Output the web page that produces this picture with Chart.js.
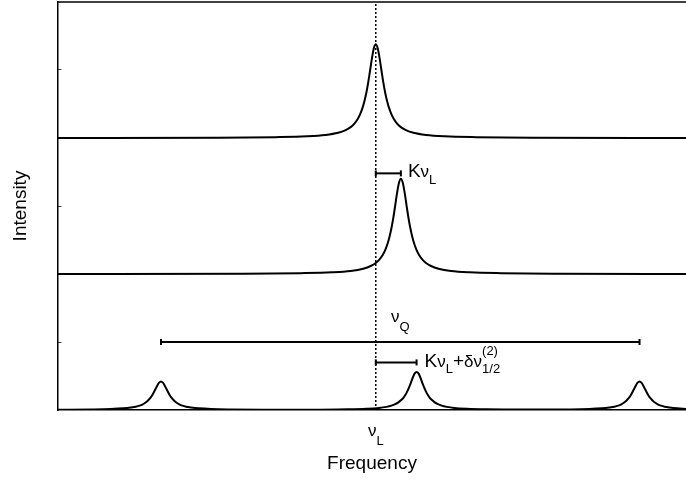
<!DOCTYPE html>
<html lang="en">
<head>
<meta charset="utf-8"/>
<title>Line shifts</title>
<script src="https://cdn.jsdelivr.net/npm/chart.js"></script>
<style>
  body { margin: 0; background: #fff; }
  #wrap { width: 686px; height: 480px; }
</style>
</head>
<body>
<div id="wrap"><canvas id="spectra" width="686" height="480"></canvas></div>
<script>
// frequency axis, nu_L at 0
const freqMin = -50.6;
const freqMax = 49.4;
const nuL = 0;

// top trace: unshifted Larmor line
const topFreq = [-50.6, -25, -16, -11, -8, -6, -4.8, -4.0, -3.4, -2.9, -2.5, -2.1, -1.8, -1.5, -1.2, -0.9, -0.6, -0.3, 0,
                 0.3, 0.6, 0.9, 1.2, 1.5, 1.8, 2.1, 2.5, 2.9, 3.4, 4.0, 4.8, 6, 8, 11, 16, 25, 49.4];
const topInt = [0, 0.002, 0.006, 0.012, 0.022, 0.038, 0.058, 0.080, 0.106, 0.138, 0.174, 0.223, 0.272, 0.333, 0.409, 0.498, 0.589, 0.662, 0.69,
                0.662, 0.589, 0.498, 0.409, 0.333, 0.272, 0.223, 0.174, 0.138, 0.106, 0.080, 0.058, 0.038, 0.022, 0.012, 0.006, 0.002, 0];

// middle trace: Knight shifted line
const midFreq = [-50.6, -21, -12, -7, -4, -2, -0.8, 0, 0.6, 1.1, 1.5, 1.9, 2.2, 2.5, 2.8, 3.1, 3.4, 3.7, 4.0,
                 4.3, 4.6, 4.9, 5.2, 5.5, 5.8, 6.1, 6.5, 6.9, 7.4, 8.0, 8.8, 10, 12, 15, 20, 29, 49.4];
const midInt = [0, 0.002, 0.006, 0.012, 0.022, 0.039, 0.059, 0.081, 0.108, 0.140, 0.176, 0.226, 0.276, 0.338, 0.415, 0.505, 0.598, 0.671, 0.70,
                0.671, 0.598, 0.505, 0.415, 0.338, 0.276, 0.226, 0.176, 0.140, 0.108, 0.081, 0.059, 0.039, 0.022, 0.012, 0.006, 0.002, 0];

// bottom trace: quadrupole split, two satellites and the central line
const botFreq = [-50.6, -45.2, -42.2, -40.2, -39.0, -38.2, -37.6, -37.1, -36.7, -36.3, -36.0, -35.7, -35.4, -35.1, -34.8, -34.5, -34.2,
                 -33.9, -33.6, -33.3, -33.0, -32.7, -32.4, -32.1, -31.7, -31.3, -30.8, -30.2, -29.4, -28.2, -26.2, -23.2, -18.2,
                 -10, -4.5, -1.5, 0.5, 1.7, 2.5, 3.1, 3.6, 4.0, 4.4, 4.7, 5.0, 5.3, 5.6, 5.9, 6.2, 6.5,
                 6.8, 7.1, 7.4, 7.7, 8.0, 8.3, 8.6, 9.0, 9.4, 9.9, 10.5, 11.3, 12.5, 14.5, 17.5, 24,
                 31.0, 34.0, 36.0, 37.2, 38.0, 38.6, 39.1, 39.5, 39.9, 40.2, 40.5, 40.8, 41.1, 41.4, 41.7, 42.0,
                 42.3, 42.6, 42.9, 43.2, 43.5, 43.8, 44.1, 44.5, 44.9, 45.4, 46.0, 46.8, 48.0, 49.4];
const botInt = [0.002, 0.004, 0.007, 0.012, 0.018, 0.024, 0.032, 0.042, 0.053, 0.068, 0.083, 0.101, 0.125, 0.152, 0.179, 0.201, 0.21,
                0.201, 0.179, 0.152, 0.125, 0.101, 0.083, 0.068, 0.053, 0.042, 0.032, 0.024, 0.018, 0.012, 0.007, 0.004, 0.002,
                0.002, 0.005, 0.009, 0.015, 0.023, 0.032, 0.043, 0.056, 0.071, 0.090, 0.110, 0.135, 0.166, 0.202, 0.239, 0.269, 0.28,
                0.269, 0.239, 0.202, 0.166, 0.135, 0.110, 0.090, 0.071, 0.056, 0.043, 0.032, 0.023, 0.015, 0.009, 0.005, 0.003,
                0.004, 0.007, 0.012, 0.018, 0.024, 0.032, 0.042, 0.053, 0.068, 0.083, 0.101, 0.125, 0.152, 0.179, 0.201, 0.21,
                0.201, 0.179, 0.152, 0.125, 0.101, 0.083, 0.068, 0.053, 0.042, 0.032, 0.024, 0.018, 0.012, 0.008];

// line positions marked by the brackets
const knightShift = 4.0;
const centralShift = 6.5;
const satLow = -34.2;
const satHigh = 42.0;

// small ticks, one per panel
const yTicks = [0.5, 1.5, 2.5];

const FONT = '"Liberation Sans", Arial, Helvetica, sans-serif';
Chart.defaults.font.family = FONT;
Chart.defaults.color = '#000';

// each panel is one unit tall, stacked bottom to top
const trace = (xs, ys, base) => xs.map((f, i) => ({x: f, y: ys[i] + base}));

const lineStyle = {
  borderColor: '#000', borderWidth: 2, pointRadius: 0,
  cubicInterpolationMode: 'monotone', fill: false
};

const bracket = (a, b, level) => ({
  data: [{x: a, y: level}, {x: b, y: level}],
  borderColor: '#000', borderWidth: 2,
  pointStyle: 'line', rotation: 90, pointRadius: 3,
  pointBorderWidth: 2, pointBorderColor: '#000'
});

const kLevel = 1.74, qLevel = 0.5, cLevel = 0.35;

function richWidth(ctx, parts) {
  let w = 0, held = 0;
  for (const p of parts) {
    ctx.font = p.s + 'px ' + FONT;
    const pw = ctx.measureText(p.t).width;
    if (p.stack) { held = Math.max(held, pw); continue; }
    w += Math.max(held, pw); held = 0;
  }
  return w + held;
}

function drawRich(ctx, x, y, parts) {
  let held = 0;
  for (const p of parts) {
    ctx.font = p.s + 'px ' + FONT;
    ctx.fillText(p.t, x, y + (p.dy || 0));
    const pw = ctx.measureText(p.t).width;
    if (p.stack) { held = Math.max(held, pw); continue; }
    x += Math.max(held, pw); held = 0;
  }
}

// frame top edge plus the bracket and axis labels with sub/superscripts
const annotations = {
  id: 'annotations',
  afterDraw(chart) {
    const {ctx, chartArea, scales: {x, y}} = chart;
    ctx.save();
    ctx.strokeStyle = '#000';
    ctx.lineWidth = 1.5;
    ctx.beginPath();
    ctx.moveTo(chartArea.left, chartArea.top);
    ctx.lineTo(chartArea.right, chartArea.top);
    ctx.stroke();

    ctx.fillStyle = '#000';
    ctx.textAlign = 'left';
    ctx.textBaseline = 'alphabetic';

    drawRich(ctx, x.getPixelForValue(knightShift) + 7, y.getPixelForValue(kLevel) + 4, [
      {t: 'K', s: 19}, {t: 'ν', s: 17}, {t: 'L', s: 13, dy: 7}
    ]);

    const q = [{t: 'ν', s: 17}, {t: 'Q', s: 13, dy: 9}];
    drawRich(ctx, x.getPixelForValue((satLow + satHigh) / 2) - richWidth(ctx, q) / 2,
             y.getPixelForValue(qLevel) - 20, q);

    drawRich(ctx, x.getPixelForValue(centralShift) + 8, y.getPixelForValue(cLevel) + 5, [
      {t: 'K', s: 19}, {t: 'ν', s: 17}, {t: 'L', s: 13, dy: 6}, {t: '+', s: 19},
      {t: 'δν', s: 17}, {t: '(2)', s: 13, dy: -12, stack: true}, {t: '1/2', s: 13, dy: 6}
    ]);

    const l = [{t: 'ν', s: 17}, {t: 'L', s: 13, dy: 9}];
    drawRich(ctx, x.getPixelForValue(nuL) - richWidth(ctx, l) / 2, chartArea.bottom + 26, l);
    ctx.restore();
  }
};

new Chart(document.getElementById('spectra'), {
  type: 'line',
  data: {
    datasets: [
      {...lineStyle, data: trace(topFreq, topInt, 2)},
      {...lineStyle, data: trace(midFreq, midInt, 1)},
      {...lineStyle, data: trace(botFreq, botInt, 0)},
      bracket(nuL, knightShift, kLevel),
      bracket(satLow, satHigh, qLevel),
      bracket(nuL, centralShift, cLevel),
      {
        data: [{x: nuL, y: 0}, {x: nuL, y: 3}],
        borderColor: '#000', borderWidth: 1.5, borderDash: [2, 2], pointRadius: 0
      }
    ]
  },
  options: {
    responsive: false,
    animation: false,
    layout: {autoPadding: false, padding: {top: 2}},
    plugins: {legend: {display: false}, tooltip: {enabled: false}},
    scales: {
      x: {
        type: 'linear', min: freqMin, max: freqMax,
        ticks: {display: false},
        grid: {display: false},
        border: {display: true, color: '#000', width: 1.5},
        title: {display: true, text: 'Frequency', color: '#000', font: {size: 19}, padding: {top: 0, bottom: 5}},
        afterFit: s => { s.height = 70; }
      },
      y: {
        min: 0, max: 3,
        afterBuildTicks: s => { s.ticks = yTicks.map(v => ({value: v})); },
        ticks: {display: false},
        grid: {drawOnChartArea: false, drawTicks: true, tickLength: -3.5, color: '#444', lineWidth: 1},
        border: {display: true, color: '#000', width: 1.5},
        title: {display: true, text: 'Intensity', color: '#000', font: {size: 19}, padding: {top: 9, bottom: 0}},
        afterFit: s => { s.width = 58; }
      }
    }
  },
  plugins: [annotations]
});
</script>
</body>
</html>
